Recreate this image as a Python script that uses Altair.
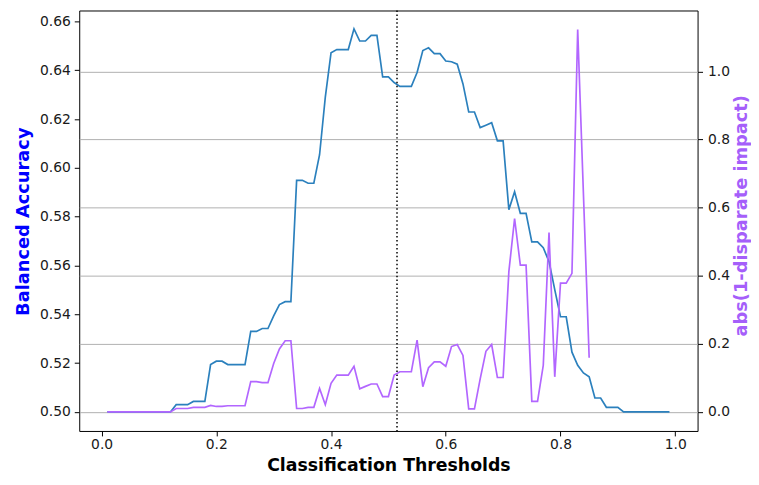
import altair as alt
import pandas as pd

thresholds = [0.01, 0.02, 0.03, 0.04, 0.05, 0.06, 0.07, 0.08, 0.09, 0.10,
              0.11, 0.12, 0.13, 0.14, 0.15, 0.16, 0.17, 0.18, 0.19, 0.20,
              0.21, 0.22, 0.23, 0.24, 0.25, 0.26, 0.27, 0.28, 0.29, 0.30,
              0.31, 0.32, 0.33, 0.34, 0.35, 0.36, 0.37, 0.38, 0.39, 0.40,
              0.41, 0.42, 0.43, 0.44, 0.45, 0.46, 0.47, 0.48, 0.49, 0.50,
              0.51, 0.52, 0.53, 0.54, 0.55, 0.56, 0.57, 0.58, 0.59, 0.60,
              0.61, 0.62, 0.63, 0.64, 0.65, 0.66, 0.67, 0.68, 0.69, 0.70,
              0.71, 0.72, 0.73, 0.74, 0.75, 0.76, 0.77, 0.78, 0.79, 0.80,
              0.81, 0.82, 0.83, 0.84, 0.85, 0.86, 0.87, 0.88, 0.89, 0.90,
              0.91, 0.92, 0.93, 0.94, 0.95, 0.96, 0.97, 0.98, 0.99]

balanced_accuracy = [
    0.500, 0.500, 0.500, 0.500, 0.500, 0.500, 0.500, 0.500, 0.500, 0.500,
    0.500, 0.500, 0.503, 0.503, 0.503, 0.5043, 0.5043, 0.5043, 0.5194, 0.5208,
    0.5208, 0.5194, 0.5194, 0.5194, 0.5194, 0.533, 0.533, 0.5342, 0.5342, 0.5394,
    0.544, 0.5452, 0.5452, 0.5949, 0.5949, 0.5937, 0.5937, 0.6054, 0.629, 0.6472,
    0.6485, 0.6485, 0.6485, 0.657, 0.652, 0.652, 0.6543, 0.6543, 0.6373, 0.6373,
    0.635, 0.6334, 0.6334, 0.6334, 0.6391, 0.6481, 0.6492, 0.6468, 0.6468, 0.6438,
    0.6435, 0.6425, 0.6344, 0.6229, 0.6229, 0.6165, 0.6175, 0.6185, 0.6111, 0.6111,
    0.5829, 0.5902, 0.5814, 0.5814, 0.5697, 0.5697, 0.5673, 0.5616, 0.5501, 0.539,
    0.539, 0.5245, 0.5191, 0.516, 0.5144, 0.5057, 0.5057, 0.5019, 0.5019, 0.5019,
    0.500, 0.500, 0.500, 0.500, 0.500, 0.500, 0.500, 0.500, 0.500]

disparate_impact = [
    0.0, 0.0, 0.0, 0.0, 0.0, 0.0, 0.0, 0.0, 0.0, 0.0,
    0.0, 0.0, 0.010, 0.010, 0.010, 0.0135, 0.0135, 0.0135, 0.019, 0.016,
    0.016, 0.018, 0.018, 0.018, 0.018, 0.089, 0.089, 0.086, 0.086, 0.142,
    0.185, 0.209, 0.209, 0.010, 0.010, 0.0135, 0.0135, 0.069, 0.021, 0.084,
    0.108, 0.108, 0.108, 0.134, 0.068, 0.075, 0.082, 0.082, 0.045, 0.045,
    0.108, 0.118, 0.118, 0.118, 0.211, 0.074, 0.130, 0.147, 0.147, 0.134,
    0.192, 0.198, 0.166, 0.009, 0.009, 0.097, 0.178, 0.198, 0.101, 0.101,
    0.412, 0.568, 0.431, 0.431, 0.031, 0.031, 0.137, 0.527, 0.103, 0.378,
    0.378, 0.407, 1.123, 0.64, 0.159]

best_threshold = [0.515]

x_ticks = [0.0, 0.2, 0.4, 0.6, 0.8, 1.0]
left_ticks = [0.50, 0.52, 0.54, 0.56, 0.58, 0.60, 0.62, 0.64, 0.66]
right_ticks = [0.0, 0.2, 0.4, 0.6, 0.8, 1.0]

df_acc = pd.DataFrame({"threshold": thresholds, "value": balanced_accuracy})
df_di = pd.DataFrame({"threshold": thresholds[:len(disparate_impact)],
                      "value": disparate_impact})
df_rule = pd.DataFrame({"threshold": best_threshold})

FONT = "DejaVu Sans"

x_enc = alt.X(
    "threshold:Q",
    scale=alt.Scale(domain=[-0.039, 1.039], nice=False, zero=False),
    axis=alt.Axis(
        values=x_ticks, format=".1f", title="Classification Thresholds",
        grid=False, domain=False, ticks=True, tickSize=5, tickColor="black",
        labelFontSize=14, labelPadding=2, labelColor="#1a1a1a",
        titleFontSize=17.5, titleFontWeight="bold", titleColor="black",
        titleY=39.5, titleBaseline="alphabetic",
    ),
)

acc = alt.Chart(df_acc).mark_line(color="#2b80bd", strokeWidth=1.7).encode(
    x=x_enc,
    y=alt.Y(
        "value:Q",
        scale=alt.Scale(domain=[0.4922, 0.6645], nice=False, zero=False),
        axis=alt.Axis(
            orient="left", values=left_ticks, format=".2f",
            title="Balanced Accuracy", grid=False, domain=False,
            tickSize=5, tickColor="black", labelFontSize=14, labelPadding=4,
            labelColor="#1a1a1a",
            titleFontSize=18, titleFontWeight="bold", titleColor="#0000ff",
            titleAngle=270, titleX=-51, titleY=213, titleAlign="center",
            titleBaseline="alphabetic",
        ),
    ),
)

rule = alt.Chart(df_rule).mark_rule(
    color="black", strokeDash=[1.5, 2.5], strokeWidth=1.5
).encode(x=alt.X("threshold:Q"))

di = alt.Chart(df_di).mark_line(color="#b266ff", strokeWidth=1.7).encode(
    x=alt.X("threshold:Q"),
    y=alt.Y(
        "value:Q",
        scale=alt.Scale(domain=[-0.056, 1.179], nice=False, zero=False),
        axis=alt.Axis(
            orient="right", values=right_ticks, format=".1f",
            title="abs(1-disparate impact)", grid=True, gridColor="#b0b0b0",
            gridWidth=1, domain=False, tickSize=5, tickColor="black",
            labelFontSize=14, labelPadding=5, labelColor="#1a1a1a",
            titleFontSize=18, titleFontWeight="bold", titleColor="#a55ffa",
            titleAngle=270, titleX=49, titleY=207, titleAlign="center",
            titleBaseline="alphabetic",
        ),
    ),
)

chart = (
    alt.layer(acc, rule, di)
    .resolve_scale(y="independent")
    .properties(
        width=625, height=425,
        autosize=alt.AutoSizeParams(type="none"),
        padding={"left": 72, "top": 0, "right": 54, "bottom": 44},
    )
    .configure_view(stroke="black", strokeWidth=1)
    .configure_axis(labelFont=FONT, titleFont=FONT)
)

chart.save("out.html", embed_options={"renderer": "svg", "actions": False})
